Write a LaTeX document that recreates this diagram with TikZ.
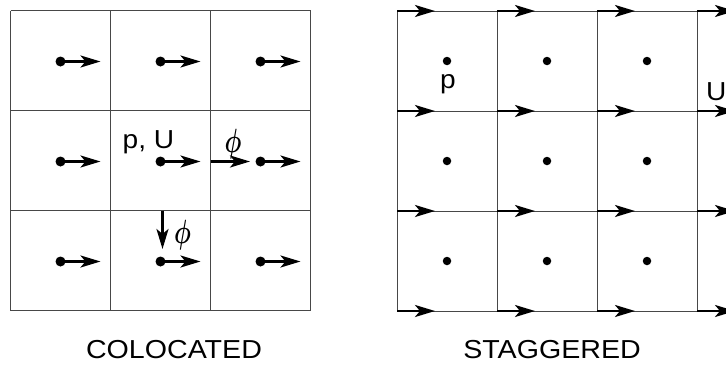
\documentclass[tikz,border=0pt]{standalone}
\usepackage{fontspec}
\setmainfont{Liberation Sans}
\usetikzlibrary{arrows.meta}
\tikzset{
  gridline/.style={line width=1pt, draw=black!72},
  vec/.style={line width=2.5pt, -{Stealth[length=20pt,width=12pt,inset=5pt]}},
  bigdot/.style={circle, fill=black, inner sep=0pt, minimum size=10pt},
  smalldot/.style={circle, fill=black, inner sep=0pt, minimum size=8.5pt},
  lbl/.style={inner sep=0pt, font=\fontsize{26}{30}\selectfont},
  philbl/.style={inner sep=0pt, font=\fontsize{26}{30}\selectfont\boldmath},
}
\begin{document}
\begin{tikzpicture}[x=1pt,y=-1pt]
\useasboundingbox (0,0) rectangle (726,367);
% ---------- colocated grid ----------
\foreach \k in {0,...,3} {
  \draw[gridline] (10.5+100*\k,10.5) -- (10.5+100*\k,310.5);
  \draw[gridline] (10.5,10.5+100*\k) -- (310.5,10.5+100*\k);
}
\foreach \i in {0,1,2} \foreach \j in {0,1,2} {
  \node[bigdot] (a\i\j) at (60.5+100*\i, 61.5+100*\j) {};
  \coordinate (ae\i\j) at (100.5+100*\i, 61.5+100*\j);
  \draw[vec] (a\i\j.center) -- (ae\i\j);
}
\coordinate (ph1s) at (210.5,161.5);
\coordinate (ph1e) at (250,161.5);
\draw[vec] (ph1s) -- (ph1e);
\coordinate (ph2s) at (162.5,210.5);
\coordinate (ph2e) at (162.5,249);
\draw[vec] (ph2s) -- (ph2e);
\node[lbl, anchor=base west] (pu) at (122.5,148.3) {\scalebox{1.08}[1]{p, U}};
\node[philbl] (phi1) at (233,144) {\scalebox{0.95}[1.35]{$\phi$}};
\node[philbl] (phi2) at (182.5,235) {\scalebox{0.95}[1.35]{$\phi$}};
\node[lbl, anchor=base] (col) at (174,358) {\scalebox{1.1}[1]{COLOCATED}};
% ---------- staggered grid ----------
\foreach \k in {0,...,3} {
  \draw[gridline] (397+100*\k, 11) -- (397+100*\k, 311);
  \draw[gridline] (397, 11+100*\k) -- (726, 11+100*\k);
}
\foreach \i in {0,...,3} \foreach \j in {0,...,3} {
  \coordinate (s\i\j) at (397+100*\i, 11+100*\j);
  \coordinate (se\i\j) at (435+100*\i, 11+100*\j);
  \draw[vec] (s\i\j) -- (se\i\j);
}
\foreach \i in {0,1,2} \foreach \j in {0,1,2} {
  \node[smalldot] (b\i\j) at (447+100*\i, 61+100*\j) {};
}
\node[lbl, anchor=base west] (pl) at (440,88) {\scalebox{1.08}[1]{p}};
\node[lbl, anchor=base west] (ul) at (706,100) {\scalebox{1.08}[1]{U}};
\node[lbl, anchor=base] (stg) at (552,358) {\scalebox{1.1}[1]{STAGGERED}};
\end{tikzpicture}
\end{document}
